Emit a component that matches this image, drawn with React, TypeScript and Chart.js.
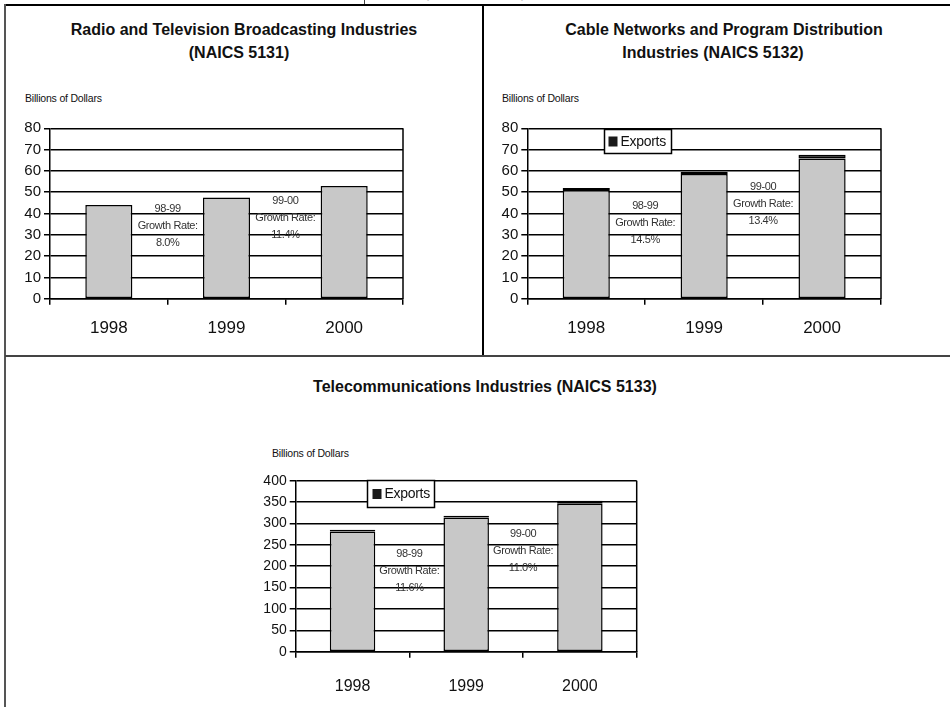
import React, { useEffect, useRef } from "react";
import { Chart, registerables } from "chart.js";

Chart.register(...registerables);

const FONT = "'Liberation Sans', Arial, sans-serif";

// ---- data ----
const years = ["1998", "1999", "2000"];
const radioTvShipments = [44.0, 47.5, 52.9];
const cableDomestic = [51.0, 58.6, 65.8];
const cableExports = [1.0, 1.0, 1.8];
const telecomDomestic = [281, 314, 346];
const telecomExports = [4, 4, 7];
const growthPeriods = ["98-99", "99-00"];
const radioTvGrowth = ["8.0%", "11.4%"];
const cableGrowth = ["14.5%", "13.4%"];
const telecomGrowth = ["11.6%", "11.0%"];
const growthLabel = "Growth Rate:";
const exportsLabel = "Exports";
const unitLabel = "Billions of Dollars";

const GRAY = "#c8c8c8";
const DARK = "#1a1a1a";

const extrasPlugin = {
  id: "extras",
  afterDatasetsDraw(chart: any, _args: any, opts: any) {
    const { ctx, chartArea: a, scales } = chart;
    ctx.save();
    ctx.strokeStyle = "#000";
    ctx.lineWidth = 1.5;
    ctx.beginPath();
    ctx.moveTo(a.right, a.top);
    ctx.lineTo(a.right, a.bottom);
    ctx.stroke();

    const g = opts.growth;
    if (g) {
      ctx.font = `${g.size}px ${FONT}`;
      ctx.fillStyle = "#333";
      ctx.textAlign = "center";
      ctx.textBaseline = "middle";
      (ctx as any).letterSpacing = "-0.4px";
      g.periods.forEach((p: string, i: number) => {
        const x = scales.x.getPixelForValue(i + 0.5);
        const y0 = scales.y.getPixelForValue(g.yValues[i]);
        [p, growthLabel, g.rates[i]].forEach((t, k) => ctx.fillText(t, x, y0 + k * g.gap));
      });
      (ctx as any).letterSpacing = "0px";
    }

    const l = opts.legend;
    if (l) {
      const ds = chart.data.datasets[l.datasetIndex];
      const x0 = Math.round(a.left + l.dx) + 0.5;
      const y0 = Math.round(a.top + l.dy) + 0.5;
      ctx.fillStyle = "#fff";
      ctx.fillRect(x0, y0, l.w, l.h);
      ctx.strokeStyle = "#000";
      ctx.lineWidth = 1.5;
      ctx.strokeRect(x0, y0, l.w, l.h);
      ctx.fillStyle = ds.backgroundColor;
      ctx.fillRect(x0 + l.sq, y0 + l.h / 2 - 5, 9, 10);
      ctx.fillStyle = "#111";
      ctx.font = `${l.size}px ${FONT}`;
      ctx.textAlign = "left";
      ctx.textBaseline = "middle";
      (ctx as any).letterSpacing = "-0.3px";
      ctx.fillText(ds.label, x0 + l.tx, y0 + l.h / 2 + 0.5);
      (ctx as any).letterSpacing = "0px";
    }
    ctx.restore();
  },
};

type PanelProps = {
  left: number;
  top: number;
  width: number;
  height: number;
  area: { left: number; right: number; top: number; bottom: number };
  datasets: any[];
  yMax: number;
  yStep: number;
  tickSize: number;
  catSize: number;
  catPadding: number;
  extras: any;
};

function PanelChart(p: PanelProps) {
  const ref = useRef<HTMLCanvasElement>(null);
  useEffect(() => {
    if (!ref.current) return;
    const chart = new Chart(ref.current, {
      type: "bar",
      data: { labels: years, datasets: p.datasets },
      options: {
        animation: false,
        responsive: false,
        devicePixelRatio: 1,
        layout: {
          padding: {
            left: 0,
            top: p.area.top,
            right: p.width - p.area.right,
            bottom: 0,
          },
        },
        plugins: {
          legend: { display: false },
          tooltip: { enabled: false },
          extras: p.extras,
        } as any,
        scales: {
          x: {
            stacked: true,
            offset: true,
            grid: {
              display: true,
              drawOnChartArea: false,
              drawTicks: true,
              tickLength: 6,
              color: "#000",
              lineWidth: 1.5,
              offset: true,
            },
            border: { display: true, color: "#000", width: 1.5 },
            ticks: {
              color: "#111",
              font: { family: FONT, size: p.catSize },
              padding: p.catPadding,
              maxRotation: 0,
            },
            afterFit: (s: any) => {
              s.height = p.height - p.area.bottom;
            },
          },
          y: {
            stacked: true,
            min: 0,
            max: p.yMax,
            ticks: {
              stepSize: p.yStep,
              color: "#111",
              font: { family: FONT, size: p.tickSize },
              padding: 3,
            },
            grid: {
              color: "#000",
              lineWidth: 1.5,
              drawTicks: true,
              tickLength: 6,
            },
            border: { display: true, color: "#000", width: 1.5 },
            afterFit: (s: any) => {
              s.width = p.area.left;
            },
          },
        },
      },
      plugins: [extrasPlugin],
    });
    return () => chart.destroy();
  }, []);
  return (
    <canvas
      ref={ref}
      width={p.width}
      height={p.height}
      style={{ position: "absolute", left: p.left, top: p.top, width: p.width, height: p.height }}
    />
  );
}

const barBase = {
  borderColor: "#000",
  borderWidth: 1.5,
  borderSkipped: false,
  barPercentage: 0.4,
  categoryPercentage: 1,
};

function Text(props: { x: number; y: number; w?: number; size: number; bold?: boolean; center?: boolean; ls?: number; children: any }) {
  return (
    <div
      style={{
        position: "absolute",
        left: props.center ? props.x - (props.w || 600) / 2 : props.x,
        top: props.y,
        width: props.center ? props.w || 600 : undefined,
        textAlign: props.center ? "center" : "left",
        fontFamily: FONT,
        fontSize: props.size,
        fontWeight: props.bold ? 700 : 400,
        lineHeight: "20px",
        letterSpacing: props.ls ?? 0,
        whiteSpace: "nowrap",
        color: "#111",
      }}
    >
      {props.children}
    </div>
  );
}

export default function App() {
  return (
    <div
      style={{
        position: "absolute",
        left: 0,
        top: 0,
        width: 950,
        height: 707,
        background: "#fff",
        overflow: "hidden",
      }}
    >
      {/* clipped header box */}
      <div
        style={{
          position: "absolute",
          left: 364,
          top: -16,
          width: 220,
          height: 20,
          borderLeft: "1px solid #444",
          fontFamily: FONT,
          fontSize: 12,
          color: "#bbb",
          textAlign: "center",
          lineHeight: "20px",
        }}
      >
        (Billions of Dollars)
      </div>

      {/* panel borders */}
      <div style={{ position: "absolute", left: 5, top: 4, width: 945, height: 2, background: "#000" }} />
      <div style={{ position: "absolute", left: 4, top: 4, width: 2, height: 703, background: "#555" }} />
      <div style={{ position: "absolute", left: 482, top: 4, width: 2, height: 352, background: "#000" }} />
      <div style={{ position: "absolute", left: 5, top: 355, width: 945, height: 2, background: "#444" }} />

      {/* titles */}
      <Text x={244} y={19.7} size={16} bold center>Radio and Television Broadcasting Industries</Text>
      <Text x={239} y={43.2} size={16} bold center>(NAICS 5131)</Text>
      <Text x={724} y={19.7} size={16} bold center>Cable Networks and Program Distribution</Text>
      <Text x={713} y={43.2} size={16} bold center>Industries (NAICS 5132)</Text>
      <Text x={485} y={377} size={16} bold center>Telecommunications Industries (NAICS 5133)</Text>

      <Text x={25} y={88} size={10.5} ls={-0.2}>{unitLabel}</Text>
      <Text x={502} y={88} size={10.5} ls={-0.2}>{unitLabel}</Text>
      <Text x={272} y={443} size={10.5} ls={-0.2}>{unitLabel}</Text>

      <PanelChart
        left={5}
        top={60}
        width={477}
        height={295}
        area={{ left: 45, right: 398, top: 68.3, bottom: 238.7 }}
        datasets={[{ ...barBase, label: "Shipments", data: radioTvShipments, backgroundColor: GRAY }]}
        yMax={80}
        yStep={10}
        tickSize={15}
        catSize={17}
        catPadding={13}
        extras={{
          growth: { periods: growthPeriods, rates: radioTvGrowth, yValues: [42.1, 45.9], gap: 17, size: 11 },
        }}
      />
      <PanelChart
        left={484}
        top={60}
        width={466}
        height={295}
        area={{ left: 43.3, right: 397, top: 68.3, bottom: 238.7 }}
        datasets={[
          { ...barBase, label: "Domestic", data: cableDomestic, backgroundColor: GRAY },
          { ...barBase, label: exportsLabel, data: cableExports, backgroundColor: DARK },
        ]}
        yMax={80}
        yStep={10}
        tickSize={15}
        catSize={17}
        catPadding={13}
        extras={{
          growth: { periods: growthPeriods, rates: cableGrowth, yValues: [43.5, 52.4], gap: 17, size: 11 },
          legend: { datasetIndex: 1, dx: 76.7, dy: 0.7, w: 67, h: 24, sq: 4, tx: 16, size: 14 },
        }}
      />
      <PanelChart
        left={5}
        top={440}
        width={945}
        height={267}
        area={{ left: 290.7, right: 631.7, top: 40.7, bottom: 211.7 }}
        datasets={[
          { ...barBase, label: "Domestic", data: telecomDomestic, backgroundColor: GRAY },
          { ...barBase, label: exportsLabel, data: telecomExports, backgroundColor: DARK },
        ]}
        yMax={400}
        yStep={50}
        tickSize={14}
        catSize={16}
        catPadding={19}
        extras={{
          growth: { periods: growthPeriods, rates: telecomGrowth, yValues: [228.5, 275.3], gap: 17, size: 11 },
          legend: { datasetIndex: 1, dx: 71.3, dy: -0.5, w: 67, h: 27, sq: 5, tx: 17, size: 14 },
        }}
      />
    </div>
  );
}
